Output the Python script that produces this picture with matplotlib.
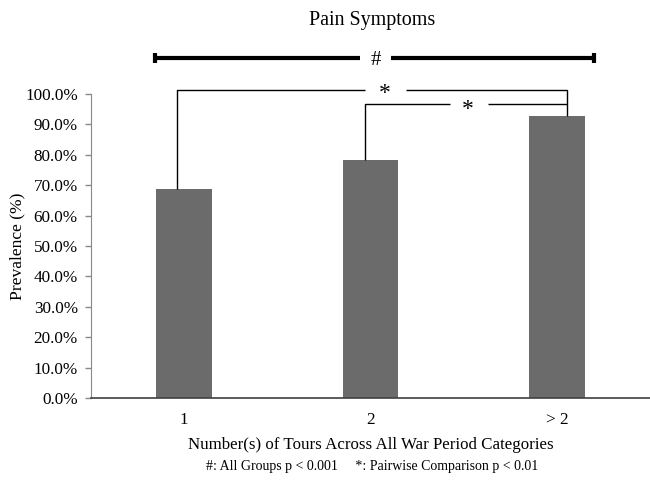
import numpy as np
import matplotlib
matplotlib.use("Agg")
import matplotlib.pyplot as plt

plt.rcParams['font.family'] = ['Liberation Serif', 'DejaVu Serif']

categories = ["1", "2", "> 2"]
prevalence = [68.8, 78.2, 92.7]
yticks = np.arange(0, 101, 10)

BAR_COLOR = "#6b6b6b"

fig = plt.figure(figsize=(6.5, 4.8), dpi=100)
ax = fig.add_axes([0.14, 0.170, 0.86, 0.635])

x = np.arange(len(categories)) + 0.5
ax.bar(x, prevalence, width=0.30, color=BAR_COLOR, zorder=2)

ax.set_xlim(0, 3)
ax.set_ylim(0, 100)
ax.set_yticks(yticks)
ax.set_yticklabels([f"{v:.1f}%" for v in yticks], fontsize=12.3)
ax.set_xticks(x)
ax.set_xticklabels(categories, fontsize=12.3)
ax.tick_params(axis='x', length=0, pad=10)
ax.tick_params(axis='y', length=4, width=1, color="#888888", pad=5.5)

for s in ["top", "right"]:
    ax.spines[s].set_visible(False)
ax.spines["left"].set_color("#888888")
ax.spines["bottom"].set_color("#404040")
ax.spines["bottom"].set_linewidth(1.2)

ax.set_ylabel("Prevalence (%)", fontsize=12.6, labelpad=0)
ax.set_xlabel("Number(s) of Tours Across All War Period Categories", fontsize=12.2, labelpad=6)

fig.text(0.572, 0.958, "Pain Symptoms", ha="center", va="center", fontsize=14.4)
fig.text(0.572, 0.028, "#: All Groups p < 0.001     *: Pairwise Comparison p < 0.01",
         ha="center", va="center", fontsize=10)

# overall test bar with end caps
kw = dict(color="black", clip_on=False, solid_capstyle="butt")
hy = 111.7
ax.plot([0.341, 1.444], [hy, hy], lw=3, **kw)
ax.plot([1.609, 2.697], [hy, hy], lw=3, **kw)
ax.plot([0.341, 0.341], [hy - 1.7, hy + 1.7], lw=3, **kw)
ax.plot([2.697, 2.697], [hy - 1.7, hy + 1.7], lw=3, **kw)
ax.text(1.526, hy - 0.8, "#", ha="center", va="center", fontsize=15, clip_on=False)

# pairwise brackets
x1, x2, x3 = x[0] - 0.041, x[1] - 0.032, x[2] + 0.053
y_outer, y_inner = 101.3, 96.6
ax.plot([x1, x1, 1.470], [prevalence[0], y_outer, y_outer], lw=1, **kw)
ax.plot([1.691, x3, x3], [y_outer, y_outer, prevalence[2]], lw=1, **kw)
ax.text(1.575, y_outer - 1.3, "*", ha="center", va="center", fontsize=17, clip_on=False)

ax.plot([x2, x2, 1.925], [prevalence[1], y_inner, y_inner], lw=1, **kw)
ax.plot([2.133, x3], [y_inner, y_inner], lw=1, **kw)
ax.text(2.020, y_inner - 1.8, "*", ha="center", va="center", fontsize=17, clip_on=False)

fig.savefig("out.png", dpi=100)
